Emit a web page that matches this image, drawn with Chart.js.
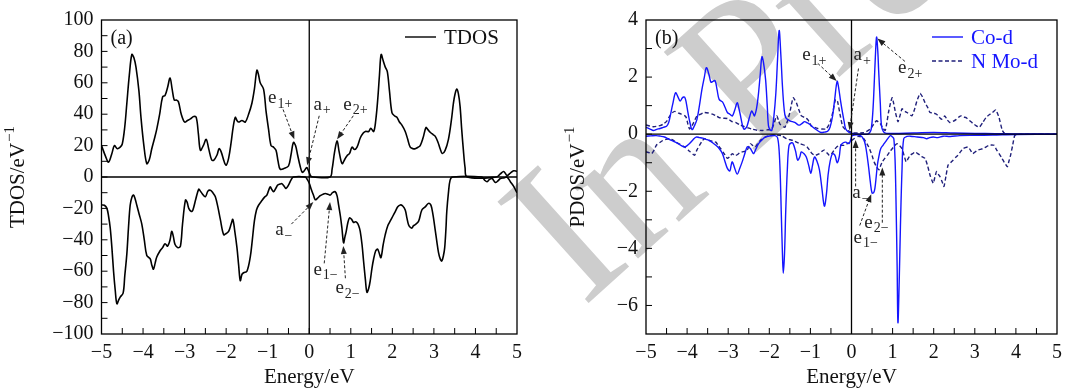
<!DOCTYPE html>
<html>
<head>
<meta charset="utf-8">
<script src="https://cdn.jsdelivr.net/npm/chart.js@4.4.1/dist/chart.umd.min.js"></script>
<style>
  html, body { margin: 0; padding: 0; background: #fff; }
  #wrap { position: relative; width: 1069px; height: 390px; overflow: hidden; }
  canvas { position: absolute; top: 0; }
  #chartA { left: 0; }
  #chartB { left: 535px; }
</style>
</head>
<body>
<div id="wrap">
  <canvas id="chartA" width="535" height="390"></canvas>
  <canvas id="chartB" width="534" height="390"></canvas>
</div>
<script>
// ---- data ----
const energyTicks = [-5, -4, -3, -2, -1, 0, 1, 2, 3, 4, 5];
const tdosTicks = [-100, -80, -60, -40, -20, 0, 20, 40, 60, 80, 100];
const pdosTicks = [-6, -4, -2, 0, 2, 4];

// (a) TDOS, spin up
const tdosUpE = [-5.0,-4.9,-4.83,-4.75,-4.69,-4.62,-4.55,-4.5,-4.44,-4.39,-4.33,-4.27,-4.22,-4.17,-4.1,-4.05,-3.98,-3.91,-3.85,-3.79,-3.72,-3.67,-3.6,-3.53,-3.47,-3.41,-3.35,-3.3,-3.25,-3.2,-3.15,-3.08,-3.0,-2.93,-2.86,-2.78,-2.72,-2.67,-2.62,-2.55,-2.48,-2.42,-2.35,-2.3,-2.22,-2.17,-2.12,-2.05,-2.0,-1.94,-1.88,-1.83,-1.78,-1.74,-1.7,-1.62,-1.54,-1.46,-1.38,-1.32,-1.26,-1.22,-1.18,-1.1,-1.04,-0.98,-0.92,-0.86,-0.8,-0.75,-0.7,-0.6,-0.5,-0.44,-0.38,-0.33,-0.28,-0.22,-0.17,-0.12,-0.06,-0.02,0.04,0.1,0.5,0.55,0.61,0.67,0.72,0.79,0.85,0.91,0.97,1.03,1.09,1.15,1.23,1.3,1.35,1.43,1.48,1.55,1.6,1.65,1.69,1.73,1.78,1.83,1.88,1.93,1.99,2.05,2.11,2.17,2.23,2.31,2.37,2.43,2.5,2.55,2.62,2.67,2.74,2.81,2.86,2.91,2.98,3.03,3.1,3.15,3.2,3.27,3.35,3.42,3.47,3.51,3.55,3.59,3.63,3.67,3.71,3.75,3.8,4.5,4.6,4.68,4.76,4.84,4.92,5.0];
const tdosUp = [20,13,9.5,15,20,18,19,21,32,47,65,78,76,70,55,38,20,8.5,11,18,25,30.5,40,51,52,57,63,56,49,49,48,40,35,36,37,38.5,38,28,17,20,24,18,11,10.6,14,18,16,10,7.5,12,22,32,38,36,35,36,35,40,47,56,68,65,60,56,42,30.5,20,19,17,10,5,5.5,7,14,22,20,14,7,3,4,6,4,0.5,0,0,5,16,23,16,8.5,11,13.6,15,19,17.5,19,25,28,29,29,31,29,36,50,65,78,74,70,67,55,41,39,38,35,33,29,24,19,18,18,19,20,25,31.5,30,28.5,27,26,22,18,15,17,24,36,47,53,56,53,45,30,17,6,0,0,2,3.5,1,2.5,4,3.5];

// (a) TDOS, spin down
const tdosDnE = [-5.0,-4.93,-4.87,-4.83,-4.79,-4.75,-4.71,-4.67,-4.63,-4.58,-4.55,-4.48,-4.44,-4.39,-4.35,-4.31,-4.27,-4.23,-4.19,-4.15,-4.09,-4.03,-3.97,-3.91,-3.83,-3.79,-3.75,-3.71,-3.67,-3.59,-3.53,-3.47,-3.41,-3.35,-3.31,-3.27,-3.23,-3.16,-3.1,-3.05,-2.98,-2.94,-2.9,-2.84,-2.8,-2.73,-2.66,-2.62,-2.58,-2.5,-2.44,-2.38,-2.32,-2.26,-2.2,-2.14,-2.06,-2.0,-1.94,-1.88,-1.84,-1.79,-1.74,-1.7,-1.66,-1.62,-1.58,-1.5,-1.42,-1.37,-1.32,-1.27,-1.22,-1.14,-1.08,-1.02,-0.94,-0.9,-0.86,-0.8,-0.76,-0.7,-0.66,-0.6,-0.56,-0.5,-0.44,-0.38,-0.1,-0.05,0.0,0.05,0.1,0.145,0.2,0.265,0.33,0.385,0.45,0.505,0.56,0.625,0.67,0.706,0.75,0.786,0.826,0.86,0.89,0.93,0.97,1.02,1.067,1.11,1.147,1.19,1.227,1.27,1.307,1.35,1.388,1.43,1.468,1.51,1.548,1.6,1.645,1.69,1.725,1.78,1.829,1.89,1.95,2.01,2.07,2.13,2.19,2.25,2.31,2.35,2.39,2.43,2.47,2.51,2.55,2.63,2.71,2.79,2.87,2.92,2.95,2.99,3.03,3.07,3.11,3.15,3.19,3.23,3.26,3.29,3.31,3.35,3.39,3.45,4.15,4.22,4.28,4.34,4.4,4.48,4.54,4.6,4.7,4.76,4.84,4.92,5.0];
const tdosDn = [-17.8,-18,-20,-25,-32.5,-45,-60,-72,-80.7,-78,-76.5,-74,-63,-49,-32,-18,-13,-11.5,-14,-18,-24,-30,-40,-50,-52,-56,-58.7,-55,-51,-47,-45,-42.5,-44,-40,-34.6,-38,-43,-45,-44,-30,-14.7,-16,-20,-22,-21,-14,-7.8,-9,-10.5,-12.6,-9,-8.4,-10,-12.6,-19,-27,-36.7,-36,-34.6,-30,-27,-35,-45,-56,-66,-62,-61,-60,-51,-40,-28,-21,-18,-15,-13,-11.5,-6.3,-8,-9.4,-7,-5.2,-4.5,-4.2,-6,-7.3,-5.2,-2,0,0,-1.5,-4,-8,-11.5,-14.5,-13.5,-11.9,-11,-10.5,-11,-11.5,-10,-9.4,-12,-17.8,-25,-32.5,-41.9,-38,-34.6,-29,-26,-27,-29,-28.5,-29,-31,-34.6,-43,-53.5,-65,-73.4,-71,-66,-58,-52.4,-47,-46,-49,-51.4,-43,-36.7,-31,-28,-25,-22,-19,-17.8,-18.5,-21,-26,-30.4,-32,-32.5,-31,-30.4,-28.3,-21,-19,-16.8,-17.5,-20,-26,-33.5,-41,-48,-52,-53.5,-50,-45,-33,-22,-10,-2,0,0,-2,-3,-1.5,-1,-3.5,-2.5,-1,-0.5,0,-3,-6,-10];

// (b) Co-d, spin up / down
const coUpE = [-5.0,-4.9,-4.82,-4.74,-4.66,-4.58,-4.5,-4.45,-4.41,-4.35,-4.28,-4.22,-4.17,-4.11,-4.06,-4.02,-3.98,-3.93,-3.88,-3.82,-3.76,-3.7,-3.64,-3.58,-3.53,-3.47,-3.42,-3.37,-3.32,-3.27,-3.22,-3.14,-3.08,-3.02,-2.96,-2.9,-2.84,-2.78,-2.74,-2.7,-2.66,-2.62,-2.58,-2.54,-2.48,-2.43,-2.39,-2.36,-2.31,-2.27,-2.22,-2.18,-2.14,-2.09,-2.05,-2.02,-1.98,-1.94,-1.89,-1.84,-1.8,-1.76,-1.72,-1.68,-1.64,-1.6,-1.5,-1.38,-1.3,-1.26,-1.2,-1.14,-1.08,-1.02,-0.96,-0.9,-0.82,-0.74,-0.66,-0.58,-0.52,-0.46,-0.41,-0.35,-0.31,-0.27,-0.22,-0.18,-0.14,-0.06,0.06,0.38,0.44,0.48,0.52,0.55,0.58,0.61,0.64,0.66,0.7,0.73,0.78,0.85,1.5,2.0,2.5,3.0,3.5,4.0,5.0];
const coUp = [0.24,0.18,0.13,0.17,0.2,0.24,0.28,0.4,0.64,1.05,1.45,1.3,1.16,1.28,1.3,1.1,0.76,0.4,0.16,0.3,0.52,1.0,1.56,2.0,2.33,2.1,1.82,1.85,1.88,1.55,1.22,1.13,0.95,0.76,0.7,0.64,0.85,1.1,0.9,0.64,0.35,0.18,0.2,0.29,0.6,0.81,0.72,0.64,0.9,1.33,2.1,2.71,2.5,1.91,1.0,0.29,0.15,0.13,0.6,1.45,2.6,3.63,2.8,1.68,0.9,0.58,0.47,0.41,0.33,0.32,0.38,0.44,0.4,0.35,0.27,0.2,0.12,0.06,0.07,0.1,0.25,0.64,1.2,1.85,1.6,1.2,0.76,0.45,0.18,0.06,0.02,0.0,0.05,0.18,0.8,1.68,2.7,3.4,2.9,2.25,1.1,0.29,0.08,0.03,0.04,0.06,0.04,0.03,0.02,0.01,0.0];
const coDnE = [-5.0,-4.88,-4.75,-4.65,-4.55,-4.46,-4.38,-4.3,-4.22,-4.14,-4.06,-4.0,-3.94,-3.86,-3.78,-3.7,-3.62,-3.54,-3.46,-3.38,-3.3,-3.22,-3.14,-3.08,-3.02,-2.96,-2.93,-2.9,-2.84,-2.78,-2.72,-2.66,-2.6,-2.54,-2.5,-2.46,-2.42,-2.38,-2.32,-2.26,-2.18,-2.1,-1.98,-1.86,-1.8,-1.76,-1.73,-1.71,-1.68,-1.66,-1.63,-1.6,-1.56,-1.52,-1.46,-1.42,-1.36,-1.31,-1.26,-1.22,-1.16,-1.1,-1.04,-0.99,-0.95,-0.9,-0.84,-0.78,-0.72,-0.66,-0.61,-0.57,-0.52,-0.46,-0.4,-0.35,-0.3,-0.26,-0.2,-0.14,-0.06,-0.02,0.02,0.22,0.3,0.34,0.38,0.42,0.46,0.5,0.54,0.57,0.6,0.63,0.67,0.71,0.77,0.82,0.9,0.95,1.0,1.03,1.06,1.08,1.11,1.13,1.16,1.19,1.23,1.27,1.35,1.43,1.6,1.75,1.83,1.9,1.99,2.1,2.23,2.4,2.63,3.0,3.43,4.0,5.0];
const coDn = [-0.07,-0.06,-0.05,-0.07,-0.1,-0.16,-0.22,-0.27,-0.33,-0.4,-0.45,-0.4,-0.33,-0.2,-0.1,-0.12,-0.14,-0.18,-0.22,-0.3,-0.39,-0.5,-0.68,-0.95,-1.2,-1.29,-1.1,-0.97,-1.2,-1.4,-1.2,-0.97,-0.7,-0.45,-0.45,-0.5,-0.6,-0.68,-0.5,-0.33,-0.2,-0.1,-0.06,-0.05,-0.12,-0.6,-1.6,-2.69,-4.2,-4.87,-4.2,-2.69,-1.2,-0.39,-0.3,-0.33,-0.6,-0.91,-0.8,-0.62,-0.68,-0.8,-1.1,-1.37,-1.1,-0.8,-0.95,-1.25,-1.9,-2.52,-2.1,-1.43,-0.95,-0.68,-0.75,-1.0,-0.8,-0.39,-0.3,-0.28,-0.33,-0.2,-0.05,-0.05,-0.2,-0.39,-0.75,-1.2,-1.7,-2.06,-2.05,-1.89,-1.5,-1.08,-0.75,-0.51,-0.38,-0.28,-0.12,-0.05,-0.1,-0.16,-0.9,-2.11,-4.6,-6.6,-5.2,-3.26,-1.2,-0.16,-0.08,-0.07,-0.1,-0.12,-0.16,-0.12,-0.1,-0.12,-0.07,-0.08,-0.05,-0.04,-0.03,-0.01,0.0];

// (b) N Mo-d, spin up / down
const moUpE = [-5.0,-4.82,-4.66,-4.58,-4.5,-4.42,-4.36,-4.3,-4.22,-4.14,-4.06,-4.02,-3.98,-3.94,-3.88,-3.84,-3.76,-3.67,-3.58,-3.48,-3.38,-3.3,-3.22,-3.12,-3.02,-2.92,-2.82,-2.72,-2.62,-2.52,-2.42,-2.3,-2.17,-2.05,-1.94,-1.88,-1.82,-1.78,-1.74,-1.66,-1.62,-1.56,-1.5,-1.46,-1.42,-1.38,-1.34,-1.28,-1.22,-1.14,-1.07,-1.02,-0.98,-0.9,-0.82,-0.72,-0.62,-0.56,-0.5,-0.45,-0.39,-0.34,-0.28,-0.22,-0.16,-0.1,0.02,0.3,0.46,0.54,0.61,0.66,0.71,0.77,0.82,0.86,0.9,0.95,0.99,1.03,1.07,1.13,1.18,1.23,1.3,1.35,1.47,1.53,1.59,1.67,1.73,1.79,1.85,1.91,2.0,2.07,2.13,2.19,2.27,2.33,2.39,2.47,2.55,2.61,2.67,2.73,2.79,2.87,2.95,3.03,3.11,3.19,3.27,3.35,3.43,3.51,3.59,3.67,3.75,5.0];
const moUp = [0.32,0.26,0.3,0.35,0.45,0.64,0.75,0.8,0.75,0.7,0.65,0.58,0.35,0.18,0.3,0.41,0.64,0.7,0.76,0.74,0.7,0.65,0.58,0.56,0.55,0.45,0.41,0.33,0.27,0.22,0.18,0.14,0.13,0.15,0.18,0.4,0.64,0.5,0.35,0.26,0.24,0.45,0.76,1.05,1.28,1.2,1.1,0.85,0.64,0.58,0.52,0.4,0.29,0.24,0.2,0.18,0.18,0.3,0.52,0.8,1.22,1.15,0.7,0.29,0.18,0.13,0.05,0.05,0.18,0.35,0.47,0.42,0.35,0.2,0.13,0.4,0.76,1.1,1.28,1.05,0.76,0.44,0.65,0.89,0.8,0.76,0.64,0.85,1.16,1.43,1.3,1.1,0.95,0.76,0.74,0.7,0.6,0.52,0.64,0.5,0.41,0.45,0.52,0.6,0.64,0.6,0.58,0.48,0.38,0.3,0.24,0.4,0.58,0.68,0.76,0.85,0.58,0.13,0.0,0.0];
const moDnE = [-5.0,-4.92,-4.86,-4.8,-4.75,-4.67,-4.59,-4.51,-4.43,-4.35,-4.27,-4.17,-4.06,-3.94,-3.82,-3.76,-3.7,-3.64,-3.58,-3.46,-3.38,-3.3,-3.24,-3.18,-3.1,-3.02,-2.96,-2.9,-2.84,-2.78,-2.72,-2.66,-2.6,-2.54,-2.46,-2.4,-2.34,-2.28,-2.22,-2.1,-1.98,-1.86,-1.7,-1.58,-1.42,-1.26,-1.14,-1.08,-1.02,-0.96,-0.9,-0.84,-0.78,-0.72,-0.66,-0.6,-0.54,-0.48,-0.42,-0.36,-0.3,-0.18,-0.06,0.06,0.18,0.3,0.42,0.5,0.55,0.61,0.67,0.71,0.75,0.81,0.87,0.93,0.99,1.05,1.11,1.17,1.23,1.28,1.33,1.38,1.43,1.49,1.55,1.61,1.67,1.73,1.79,1.85,1.91,1.95,1.99,2.03,2.07,2.11,2.15,2.2,2.25,2.3,2.35,2.41,2.47,2.53,2.59,2.65,2.71,2.77,2.83,2.89,2.95,3.01,3.07,3.13,3.19,3.27,3.35,3.41,3.47,3.53,3.59,3.65,3.71,3.79,3.83,3.87,3.92,3.97,4.05,5.0];
const moDn = [-0.62,-0.65,-0.68,-0.55,-0.39,-0.3,-0.22,-0.18,-0.16,-0.2,-0.28,-0.36,-0.45,-0.6,-0.74,-0.55,-0.39,-0.25,-0.16,-0.22,-0.25,-0.28,-0.4,-0.51,-0.68,-0.85,-0.78,-0.68,-0.75,-0.72,-0.65,-0.62,-0.6,-0.56,-0.33,-0.4,-0.45,-0.33,-0.22,-0.1,-0.05,-0.03,-0.05,-0.16,-0.22,-0.33,-0.39,-0.45,-0.56,-0.68,-0.74,-0.72,-0.68,-0.6,-0.56,-0.65,-0.74,-0.68,-0.55,-0.45,-0.39,-0.39,-0.3,-0.16,-0.07,-0.16,-0.45,-0.75,-0.97,-1.15,-1.25,-1.1,-0.97,-0.85,-0.74,-0.62,-0.51,-0.4,-0.33,-0.4,-0.51,-0.75,-0.97,-0.85,-0.74,-0.68,-0.62,-0.68,-0.74,-0.8,-0.85,-1.1,-1.43,-1.6,-1.72,-1.5,-1.31,-1.4,-1.48,-1.65,-1.83,-1.45,-1.08,-1.0,-0.91,-0.82,-0.74,-0.62,-0.51,-0.47,-0.45,-0.55,-0.68,-0.62,-0.56,-0.53,-0.51,-0.45,-0.39,-0.38,-0.39,-0.55,-0.68,-0.82,-0.97,-1.14,-0.95,-0.74,-0.4,-0.05,0.0,0.0];

// ---- helpers ----
const pts = (xs, ys) => xs.map((x, i) => ({ x: x, y: ys[i] }));
const FONT = '"Liberation Serif", "Times New Roman", serif';
Chart.defaults.font.family = FONT;
Chart.defaults.font.size = 20;
Chart.defaults.color = '#111';

function drawSubText(ctx, x, y, main, sub) {
  ctx.textBaseline = 'middle';
  ctx.textAlign = 'left';
  ctx.font = '19px ' + FONT;
  ctx.fillText(main, x, y);
  const w = ctx.measureText(main).width;
  ctx.font = '14px ' + FONT;
  ctx.fillText(sub, x + w + 1, y + 6);
}

function drawArrow(ctx, x1, y1, x2, y2) {
  ctx.save();
  ctx.strokeStyle = '#222';
  ctx.fillStyle = '#222';
  ctx.lineWidth = 1;
  ctx.setLineDash([3, 2]);
  const a = Math.atan2(y2 - y1, x2 - x1);
  const hx = x2 - 7 * Math.cos(a), hy = y2 - 7 * Math.sin(a);
  ctx.beginPath(); ctx.moveTo(x1, y1); ctx.lineTo(hx, hy); ctx.stroke();
  ctx.setLineDash([]);
  ctx.beginPath();
  ctx.moveTo(x2, y2);
  ctx.lineTo(x2 - 8 * Math.cos(a) + 3 * Math.sin(a), y2 - 8 * Math.sin(a) - 3 * Math.cos(a));
  ctx.lineTo(x2 - 8 * Math.cos(a) - 3 * Math.sin(a), y2 - 8 * Math.sin(a) + 3 * Math.cos(a));
  ctx.closePath(); ctx.fill();
  ctx.restore();
}

function makePanel(id, opt) {
  const decor = {
    id: 'decor',
    beforeDraw(chart) {
      // "In Press" watermark, placed in page coordinates so it runs across both panels
      const ctx = chart.ctx;
      ctx.save();
      ctx.translate(583 - opt.pageX, 308);
      ctx.rotate(-42 * Math.PI / 180);
      ctx.font = '208px ' + FONT;
      ctx.fillStyle = '#cdcdcd';
      ctx.textBaseline = 'alphabetic';
      ctx.fillText('In Press', 0, 0);
      ctx.restore();
    },
    afterDatasetsDraw(chart) {
      const { ctx, chartArea: ca, scales: { x, y } } = chart;
      ctx.save();
      ctx.strokeStyle = '#000';
      ctx.lineWidth = 1.3;
      // zero lines
      ctx.beginPath();
      ctx.moveTo(ca.left, y.getPixelForValue(0)); ctx.lineTo(ca.right, y.getPixelForValue(0));
      ctx.moveTo(x.getPixelForValue(0), ca.top); ctx.lineTo(x.getPixelForValue(0), ca.bottom);
      ctx.stroke();
      // frame
      ctx.strokeRect(ca.left, ca.top, ca.right - ca.left, ca.bottom - ca.top);
      // inward ticks
      ctx.lineWidth = 1;
      ctx.beginPath();
      for (let v = x.min + 0.5; v < x.max; v += 0.5) {
        const px = x.getPixelForValue(v);
        ctx.moveTo(px, ca.bottom); ctx.lineTo(px, ca.bottom - 6);
      }
      for (let v = y.min + opt.yMinor; v < y.max - 1e-9; v += opt.yMinor) {
        const py = y.getPixelForValue(v);
        ctx.moveTo(ca.left, py); ctx.lineTo(ca.left + 6, py);
      }
      ctx.stroke();

      // y axis title with a real superscript
      ctx.save();
      ctx.fillStyle = '#111';
      ctx.translate(ca.left - opt.yTitleOff, (ca.top + ca.bottom) / 2);
      ctx.rotate(-Math.PI / 2);
      ctx.font = '21px ' + FONT;
      const wMain = ctx.measureText(opt.yTitle).width;
      ctx.font = '15px ' + FONT;
      const wSup = ctx.measureText('\u22121').width;
      const x0 = -(wMain + wSup + 1) / 2;
      ctx.textAlign = 'left';
      ctx.textBaseline = 'middle';
      ctx.font = '21px ' + FONT;
      ctx.fillText(opt.yTitle, x0, 0);
      ctx.font = '15px ' + FONT;
      ctx.fillText('\u22121', x0 + wMain + 1, -8);
      ctx.restore();

      // annotations
      opt.notes.forEach(n => {
        drawArrow(ctx, x.getPixelForValue(n.from[0]), y.getPixelForValue(n.from[1]),
                  x.getPixelForValue(n.to[0]), y.getPixelForValue(n.to[1]));
        ctx.fillStyle = '#222';
        drawSubText(ctx, x.getPixelForValue(n.at[0]), y.getPixelForValue(n.at[1]), n.main, n.sub);
      });

      // panel label
      ctx.fillStyle = '#111';
      ctx.font = '20px ' + FONT;
      ctx.textAlign = 'left';
      ctx.textBaseline = 'middle';
      ctx.fillText(opt.panel, ca.left + 9, ca.top + 19);

      // legend
      opt.legend.forEach((item, i) => {
        const ds = chart.data.datasets[item];
        const ly = ca.top + 17 + i * 24;
        const lx = ca.right - opt.legendRight;
        ctx.strokeStyle = ds.borderColor;
        ctx.lineWidth = 1.4;
        ctx.setLineDash(ds.borderDash || []);
        ctx.beginPath(); ctx.moveTo(lx, ly); ctx.lineTo(lx + 31, ly); ctx.stroke();
        ctx.setLineDash([]);
        ctx.fillStyle = opt.legendColor;
        ctx.font = '21px ' + FONT;
        ctx.fillText(ds.label, lx + 39, ly + 1);
      });
      ctx.restore();
    }
  };

  return new Chart(document.getElementById(id), {
    type: 'line',
    data: { datasets: opt.datasets },
    options: {
      responsive: false,
      animation: false,
      layout: { padding: { top: 16, right: opt.padRight, bottom: 0, left: 0 } },
      plugins: { legend: { display: false }, tooltip: { enabled: false } },
      elements: { point: { radius: 0 } },
      scales: {
        x: {
          type: 'linear', min: -5, max: 5,
          afterFit: s => { s.height = 56; },
          afterBuildTicks: s => { s.ticks = energyTicks.map(v => ({ value: v })); },
          grid: { display: false, drawTicks: false },
          border: { display: false },
          ticks: { padding: 7, maxRotation: 0, autoSkip: false,
                   callback: v => (v < 0 ? '\u2212' : '') + Math.abs(v) },
          title: { display: true, text: 'Energy/eV', font: { size: 21 }, padding: { top: 0, bottom: 0 } }
        },
        y: {
          type: 'linear', min: opt.yMin, max: opt.yMax,
          afterFit: s => { s.width = opt.yWidth; },
          afterBuildTicks: s => { s.ticks = opt.yTicks.map(v => ({ value: v })); },
          grid: { display: false, drawTicks: false },
          border: { display: false },
          ticks: { padding: 8, autoSkip: false,
                   callback: v => (v < 0 ? '\u2212' : '') + Math.abs(v) }
        }
      }
    },
    plugins: [decor]
  });
}

const blue = '#1515ff';
const navy = '#1f1f7a';

makePanel('chartA', {
  pageX: 0, padRight: 18, yWidth: 101.5, yMin: -100, yMax: 100, yMinor: 10,
  yTicks: tdosTicks, yTitle: 'TDOS/eV', yTitleOff: 83,
  panel: '(a)', legend: [0], legendRight: 112, legendColor: '#111',
  datasets: [
    { label: 'TDOS', data: pts(tdosUpE, tdosUp), borderColor: '#000', borderWidth: 1.6, tension: 0.35, fill: false },
    { label: 'TDOS', data: pts(tdosDnE, tdosDn), borderColor: '#000', borderWidth: 1.6, tension: 0.35, fill: false }
  ],
  notes: [
    { main: 'e', sub: '1+', at: [-0.99, 50], from: [-0.63, 43], to: [-0.36, 24] },
    { main: 'a', sub: '+', at: [0.1, 46], from: [0.24, 39], to: [-0.05, 7.5] },
    { main: 'e', sub: '2+', at: [0.82, 46], from: [1.06, 39], to: [0.67, 24] },
    { main: 'a', sub: '\u2212', at: [-0.82, -34], from: [-0.43, -30], to: [0.1, -16] },
    { main: 'e', sub: '1\u2212', at: [0.1, -59], from: [0.36, -55], to: [0.5, -16] },
    { main: 'e', sub: '2\u2212', at: [0.63, -71], from: [0.87, -64.5], to: [0.82, -44] }
  ]
});

makePanel('chartB', {
  pageX: 535, padRight: 7, yWidth: 111, yMin: -7, yMax: 4, yMinor: 1,
  yTicks: pdosTicks, yTitle: 'PDOS/eV', yTitleOff: 68,
  panel: '(b)', legend: [0, 2], legendRight: 125, legendColor: blue,
  datasets: [
    { label: 'Co-d', data: pts(coUpE, coUp), borderColor: blue, borderWidth: 1.4, tension: 0.35, fill: false },
    { label: 'Co-d', data: pts(coDnE, coDn), borderColor: blue, borderWidth: 1.4, tension: 0.35, fill: false },
    { label: 'N Mo-d', data: pts(moUpE, moUp), borderColor: navy, borderWidth: 1.4, borderDash: [4, 2.5], tension: 0.15, fill: false },
    { label: 'N Mo-d', data: pts(moDnE, moDn), borderColor: navy, borderWidth: 1.4, borderDash: [4, 2.5], tension: 0.15, fill: false }
  ],
  notes: [
    { main: 'e', sub: '1+', at: [-1.2, 2.76], from: [-0.82, 2.48], to: [-0.36, 1.86] },
    { main: 'a', sub: '+', at: [0.05, 2.76], from: [0.17, 2.3], to: [-0.05, 0.14] },
    { main: 'e', sub: '2+', at: [1.13, 2.31], from: [1.3, 2.55], to: [0.63, 3.35] },
    { main: 'a', sub: '\u2212', at: [0.02, -2.07], from: [0.1, -1.83], to: [0.1, -0.2] },
    { main: 'e', sub: '2\u2212', at: [0.31, -3.1], from: [0.75, -3.1], to: [0.75, -1.17] },
    { main: 'e', sub: '1\u2212', at: [0.05, -3.62], from: [0.2, -3.2], to: [0.48, -2.1] }
  ]
});
</script>
</body>
</html>
